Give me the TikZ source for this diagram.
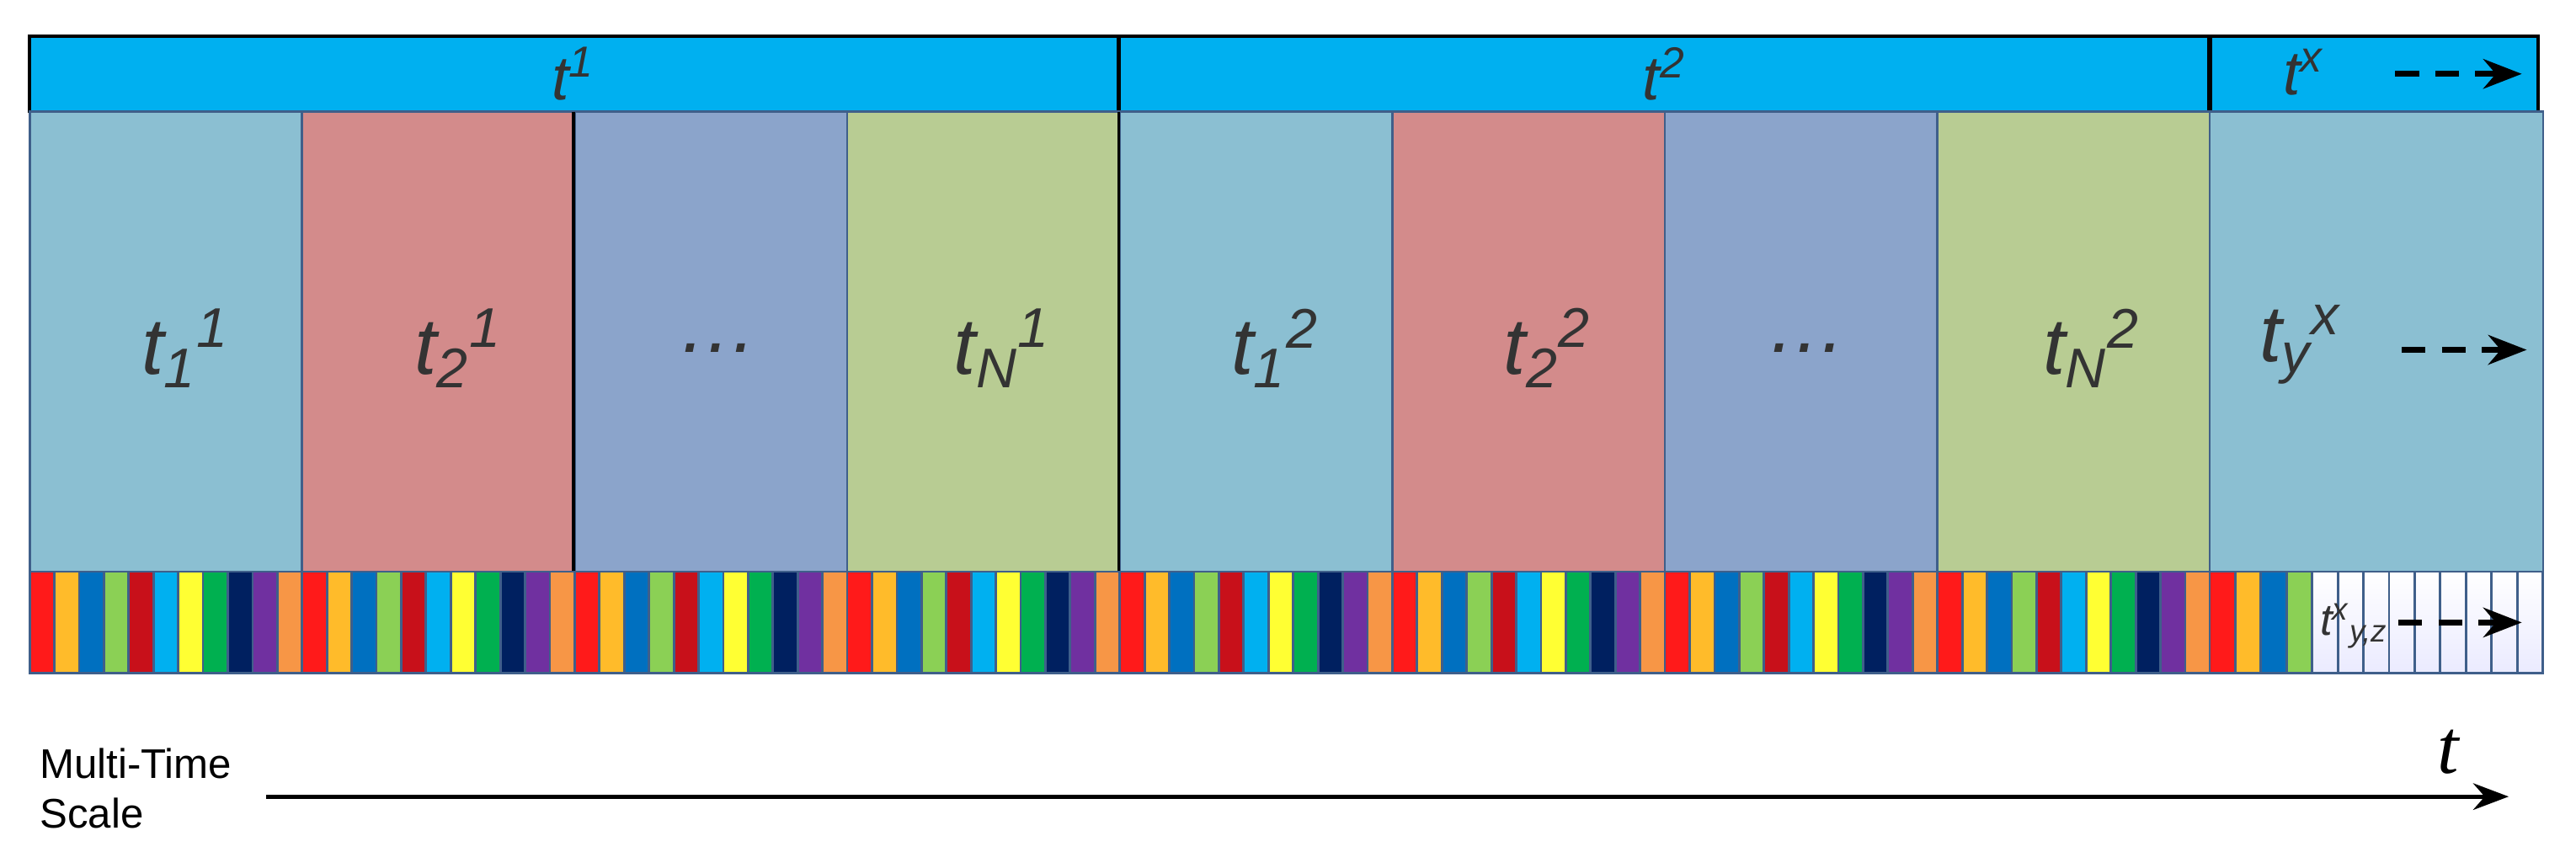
\documentclass[tikz,border=0pt]{standalone}
\usepackage{fontspec}
\setmainfont{Liberation Sans}
\newfontfamily\serifit{Liberation Serif}
\usetikzlibrary{arrows.meta}
\definecolor{barc}{HTML}{00B0F0}
\definecolor{bA}{HTML}{8BBFD2}
\definecolor{bB}{HTML}{D38B8B}
\definecolor{bC}{HTML}{8BA4CB}
\definecolor{bD}{HTML}{B8CC93}
\definecolor{edge}{HTML}{3F5F8A}
\definecolor{txt}{HTML}{333333}
\definecolor{s0}{HTML}{FF1A1A}
\definecolor{s1}{HTML}{FFBB2A}
\definecolor{s2}{HTML}{0070C0}
\definecolor{s3}{HTML}{8BD055}
\definecolor{s4}{HTML}{C8101A}
\definecolor{s5}{HTML}{00B0F0}
\definecolor{s6}{HTML}{FFFF33}
\definecolor{s7}{HTML}{00B050}
\definecolor{s8}{HTML}{002060}
\definecolor{s9}{HTML}{7030A0}
\definecolor{s10}{HTML}{F79646}
\tikzset{
  lbl/.style={text=txt,font=\fontsize{27}{30}\selectfont\itshape},
  toplbl/.style={text=txt,font=\fontsize{21}{24}\selectfont\itshape},
  dasharrow/.style={draw=black,line width=2pt,dash pattern=on 8pt off 5.5pt,-{Stealth[length=13pt,width=10pt]}},
}
\begin{document}
\begin{tikzpicture}[x=0.01951cm,y=-0.01951cm]
\useasboundingbox (0,0) rectangle (1568,528);
% top bar
\fill[barc] (18,22) rectangle (1545,68);
\draw[black,line width=1pt] (18,22) rectangle (1545,68);
\draw[black,line width=1.5pt] (681,22) -- (681,68) (1345,22) -- (1345,68);
\node[toplbl] (T1) at (349,45) {t\textsuperscript{1}};
\node[toplbl] (T2) at (1013,45) {t\textsuperscript{2}};
\node[toplbl] (TX) at (1402,44) {t\textsuperscript{x}};
\coordinate (ax1) at (1458,45); \coordinate (ax2) at (1535,45);
\draw[dasharrow] (ax1) -- (ax2);
% main boxes
\foreach \i/\c in {0/bA,1/bB,2/bC,3/bD,4/bA,5/bB,6/bC,7/bD}{
  \fill[\c] (18+\i*165.9,68) rectangle (18+\i*165.9+165.9,348);
  \draw[edge,line width=0.8pt] (18+\i*165.9,68) rectangle (18+\i*165.9+165.9,348);
}
\fill[bA] (1345,68) rectangle (1548,348);
\draw[edge,line width=0.8pt] (1345,68) rectangle (1548,348);
\draw[black,line width=1pt] (349,68) -- (349,348) (681,68)--(681,348);
\node[lbl] (a1) at (113,212) {t\textsubscript{1}\textsuperscript{1}};
\node[lbl] (a2) at (279,212) {t\textsubscript{2}\textsuperscript{1}};
\node[lbl] (a3) at (437,212) {\dots};
\node[lbl] (a4) at (610,212) {t\textsubscript{N}\textsuperscript{1}};
\node[lbl] (b1) at (776,212) {t\textsubscript{1}\textsuperscript{2}};
\node[lbl] (b2) at (942,212) {t\textsubscript{2}\textsuperscript{2}};
\node[lbl] (b3) at (1100,212) {\dots};
\node[lbl] (b4) at (1273,212) {t\textsubscript{N}\textsuperscript{2}};
\node[lbl] (yx) at (1400,210) {t\textsubscript{y}\textsuperscript{x}};
\coordinate (ay1) at (1462,213); \coordinate (ay2) at (1538,213);
\draw[dasharrow] (ay1) -- (ay2);
% stripes
\foreach \b in {0,...,7}{
  \foreach \k in {0,...,10}{
    \fill[s\k] (18+\b*165.9+\k*15.082,348) rectangle (18+\b*165.9+\k*15.082+15.082,410);
    \draw[edge,line width=0.8pt] (18+\b*165.9+\k*15.082,348) rectangle (18+\b*165.9+\k*15.082+15.082,410);
  }
}
\foreach \k in {0,...,3}{
  \fill[s\k] (1345+\k*15.6,348) rectangle (1345+\k*15.6+15.6,410);
  \draw[edge,line width=0.8pt] (1345+\k*15.6,348) rectangle (1345+\k*15.6+15.6,410);
}
\foreach \k in {4,...,12}{
  \shade[top color=white,bottom color=blue!8] (1345+\k*15.6,348) rectangle (1345+\k*15.6+15.6,410);
  \draw[edge,line width=0.8pt] (1345+\k*15.6,348) rectangle (1345+\k*15.6+15.6,410);
}
\node[text=txt,font=\fontsize{15}{17}\selectfont\itshape] (yz) at (1433,381) {t\textsuperscript{x}\textsubscript{y,z}};
\coordinate (az1) at (1460,379); \coordinate (az2) at (1535,379);
\draw[dasharrow] (az1) -- (az2);
% axis
\node[anchor=west,align=left,font=\fontsize{14}{17}\selectfont] (mts) at (18,480) {Multi-Time\\Scale};
\coordinate (ta) at (162,485); \coordinate (tb) at (1527,485);
\draw[line width=1.4pt,-{Stealth[length=12pt,width=9pt]}] (ta) -- (tb);
\node[font=\fontsize{26}{28}\serifit\itshape,text=black] (tl) at (1490,458) {t};
\end{tikzpicture}
\end{document}
